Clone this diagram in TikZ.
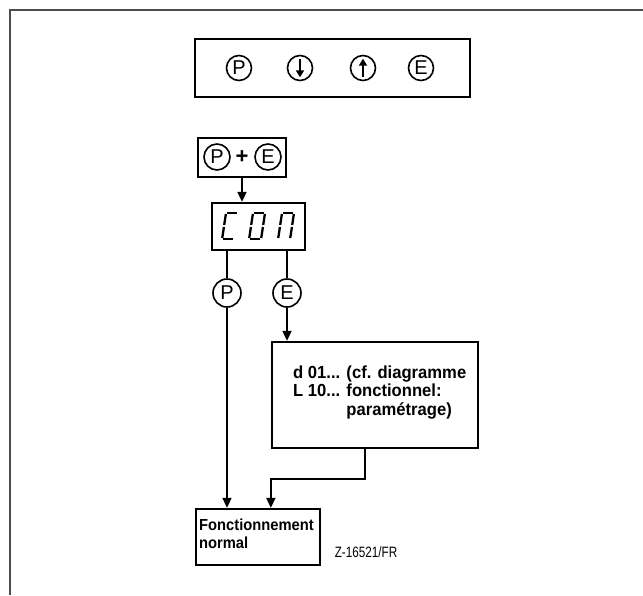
\documentclass[tikz,border=0pt]{standalone}
\usepackage{fontspec}
\setmainfont{Liberation Sans}
\usetikzlibrary{shapes.geometric, arrows}
\usetikzlibrary{positioning}
\usetikzlibrary{arrows.meta}
\tikzstyle{key} = [circle, draw, line width=1.6pt, minimum size=25pt, inner sep=0pt,
font=\fontsize{20}{20}\selectfont]
\tikzstyle{box} = [rectangle, draw, line width=2.3pt, inner sep=0pt]
\tikzstyle{arrow} = [line width=1.7pt, -{Triangle[length=10pt,width=9pt]}]
\tikzstyle{seg} = [line width=2.3pt]

\begin{document}
\begin{tikzpicture}[x=1pt, y=-1pt]
  \useasboundingbox (0,0) rectangle (643,595);
  \draw[line width=1.2pt, black!70] (10,595) -- (10,10) -- (643,10);

  \node (keypad) [box, minimum width=275pt, minimum height=58pt] at (332.5,68) {};
  \node (kp) [key] at (239,68) {P};
  \node (kdown) [key] at (300,68) {};
  \node (kup) [key] at (363,68) {};
  \node (ke) [key] at (421,68) {E};
  \draw[line width=2pt, -{Triangle[length=7pt,width=8pt]}] ([yshift=-4pt]kdown.north)
  -- ([yshift=4pt]kdown.south);
  \draw[line width=2pt, -{Triangle[length=7pt,width=8pt]}] ([yshift=4pt]kup.south)
  -- ([yshift=-4pt]kup.north);

  \node (combo) [box, minimum width=88pt, minimum height=39pt] at (242,157.5) {};
  \node (cp) [key, minimum size=26pt] at (217,157) {P};
  \node (ce) [key, minimum size=26pt] at (268,157) {E};
  \node (plus) [font=\fontsize{22}{22}\selectfont\bfseries] at (242,157) {+};

  \node (disp) [box, minimum width=93pt, minimum height=47pt] at (258.5,226.5) {};
  \begin{scope}[shift={(226,213)}, xslant=0.15]
    \foreach \xa/\ya/\xb/\yb in {1/0/11/0, 1/26/11/26, 0/1/0/12, 0/14/0/25}
    \draw[seg] (\xa,\ya) -- (\xb,\yb);
  \end{scope}
  \begin{scope}[shift={(253,213)}, xslant=0.15]
    \foreach \xa/\ya/\xb/\yb in {1/0/11/0, 1/26/11/26, 0/1/0/12, 0/14/0/25, 12/1/12/12, 12/14/12/25}
    \draw[seg] (\xa,\ya) -- (\xb,\yb);
  \end{scope}
  \begin{scope}[shift={(282,213)}, xslant=0.15]
    \foreach \xa/\ya/\xb/\yb in {1/0/11/0, 0/1/0/12, 0/14/0/25, 12/1/12/12, 12/14/12/25}
    \draw[seg] (\xa,\ya) -- (\xb,\yb);
  \end{scope}

  \node (bp) [key, minimum size=28pt] at (227,293) {P};
  \node (be) [key, minimum size=28pt] at (287,293) {E};

  \node (param) [box, minimum width=206pt, minimum height=106pt] at (375,395) {};
  \node (ptext) [anchor=north west, inner sep=0pt, xscale=0.95,
  font=\fontsize{17.5}{18}\selectfont\bfseries]
  at (293,366) {\begin{tabular}{@{}l@{ }l@{}}
      d 01... & (cf. diagramme\\
      L 10... & fonctionnel:\\
      & paramétrage)
    \end{tabular}};

  \node (fonct) [box, minimum width=124pt, minimum height=56pt] at (258,537) {};
  \node (ftext) [anchor=north west, inner sep=0pt, align=left, xscale=0.92,
  font=\fontsize{16}{18}\selectfont\bfseries] at (199,519) {Fonctionnement\\normal};

  \node (code) [font=\fontsize{15}{15}\selectfont, xscale=0.78] at (366,552) {Z-16521/FR};

  \draw[arrow] (combo.south) -- (combo.south |- disp.north);
  \draw[line width=1.7pt] (disp.south -| bp) -- (bp);
  \draw[line width=1.7pt] (disp.south -| be) -- (be);
  \draw[arrow] (bp) -- (bp |- fonct.north);
  \draw[arrow] (be) -- (be |- param.north);
  \draw[arrow] ([xshift=-10pt]param.south) -- ++(0,30) -| (fonct.north -| param.west);
\end{tikzpicture}
\end{document}
